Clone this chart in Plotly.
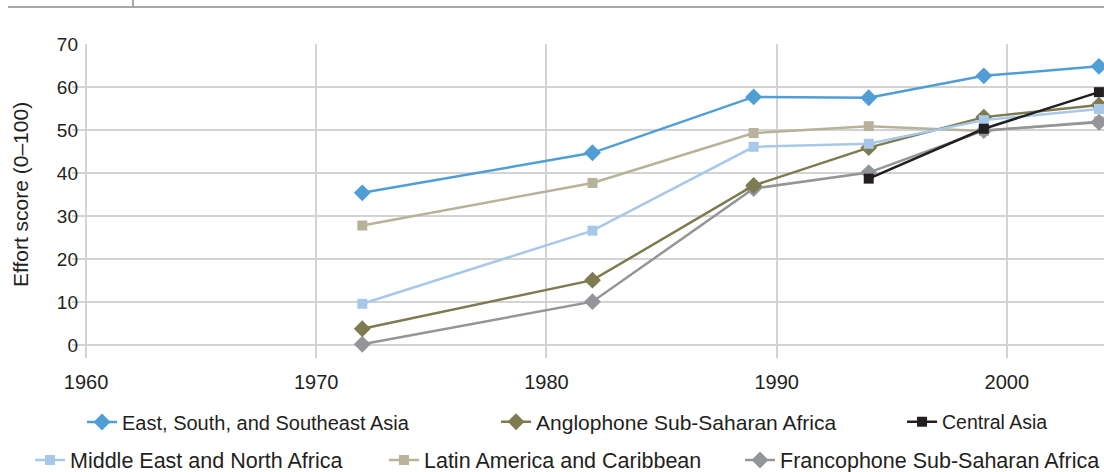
import plotly.graph_objects as go

years = [1972, 1982, 1989, 1994, 1999, 2004]
central_years = [1994, 1999, 2004]

east_asia = [35.4, 44.7, 57.7, 57.5, 62.6, 64.8]
anglophone = [3.8, 15.1, 37.1, 45.9, 53.0, 55.8]
central_asia = [38.7, 50.3, 58.8]
mena = [9.6, 26.6, 46.1, 46.8, 52.3, 54.9]
latam = [27.8, 37.7, 49.3, 50.9, 49.8, 52.0]
franco = [0.2, 10.1, 36.4, 40.1, 49.9, 51.8]

tick_years = [1960, 1970, 1980, 1990, 2000]
tick_scores = [0, 10, 20, 30, 40, 50, 60, 70]

FONT = "Liberation Sans, Arial, sans-serif"
TXT = "#231F20"

series = [
    # name, x, y, color, symbol, size, legend id, legend x (paper), legend y (paper), legend font size
    ("Latin America and Caribbean", years, latam, "#B7B39A", "square", 10, "legend5", 0.3023, -0.325, 21.5),
    ("Francophone Sub-Saharan Africa", years, franco, "#939598", "diamond", 13, "legend6", 0.6473, -0.325, 21.5),
    ("Anglophone Sub-Saharan Africa", years, anglophone, "#7E7B50", "diamond", 13, "legend2", 0.4109, -0.204, 21),
    ("Middle East and North Africa", years, mena, "#A7C8E8", "square", 10, "legend4", -0.0407, -0.325, 21.5),
    ("East, South, and Southeast Asia", years, east_asia, "#4F9ED6", "diamond", 13, "legend", 0.0097, -0.204, 20),
    ("Central Asia", central_years, central_asia, "#231F20", "square", 10, "legend3", 0.8043, -0.204, 19.5),
]

fig = go.Figure()
legends = {}
for name, xs, ys, color, sym, size, leg, lx, ly, fs in series:
    fig.add_trace(go.Scatter(
        x=xs, y=ys, name=name, mode="lines+markers",
        line=dict(color=color, width=2.5),
        marker=dict(color=color, symbol=sym, size=size),
        legend=leg, cliponaxis=False,
    ))
    legends[leg] = dict(
        x=lx, y=ly, orientation="h", xanchor="left", yanchor="middle",
        font=dict(family=FONT, size=fs, color=TXT),
        bgcolor="rgba(0,0,0,0)", borderwidth=0,
    )

fig.update_layout(
    width=1104, height=472,
    margin=dict(l=72, r=0, t=44, b=114, autoexpand=False),
    paper_bgcolor="white", plot_bgcolor="white",
    font=dict(family=FONT, size=19, color=TXT),
    xaxis=dict(
        range=[1959.39, 2004.22], tickvals=tick_years, automargin=False,
        showgrid=True, gridcolor="#D3D3D3", gridwidth=1.5,
        zeroline=False, showline=False, ticks="", ticklabelstandoff=10,
        tickfont=dict(family=FONT, size=20, color=TXT),
    ),
    yaxis=dict(
        range=[-3.0, 70], tickvals=tick_scores, automargin=False,
        showgrid=True, gridcolor="#D3D3D3", gridwidth=1.5,
        zeroline=False, showline=False, ticks="", ticklabelstandoff=-7,
        tickfont=dict(family=FONT, size=19, color=TXT),
    ),
    showlegend=True,
    annotations=[
        dict(text="Effort score (0–100)", xref="paper", yref="paper",
             x=-0.0504, y=0.522, textangle=-90, showarrow=False,
             xanchor="center", yanchor="middle",
             font=dict(family=FONT, size=21, color=TXT)),
    ],
    shapes=[
        dict(type="line", xref="paper", yref="paper", x0=-0.062, x1=1.0,
             y0=1.118, y1=1.118, line=dict(color="#A6A6A6", width=2)),
        dict(type="line", xref="paper", yref="paper", x0=0.0591, x1=0.0591,
             y0=1.118, y1=1.145, line=dict(color="#A6A6A6", width=2)),
    ],
    **legends,
)

fig.write_html("out.html", config={"displayModeBar": False},
               post_script="document.body.style.margin='0';")
